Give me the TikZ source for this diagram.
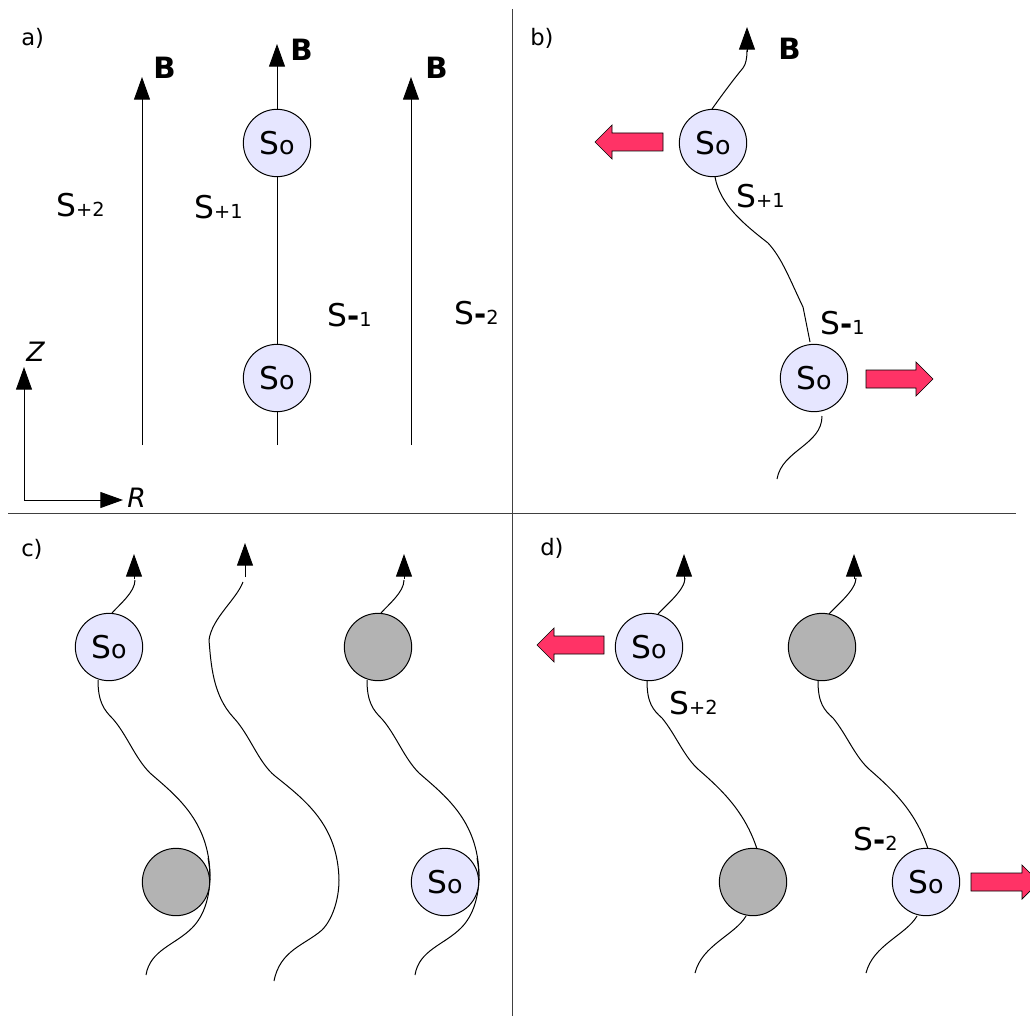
\documentclass[tikz,border=0pt]{standalone}
\usepackage{fontspec}
\setmainfont{DejaVu Sans}
\usetikzlibrary{arrows.meta}
\definecolor{sofill}{HTML}{E6E6FF}
\definecolor{grayfill}{HTML}{B3B3B3}
\definecolor{pushred}{HTML}{FF3366}
\newcommand{\Sbig}{\fontsize{23.5}{24}\selectfont S}
\newcommand{\Ssub}[1]{\fontsize{14.5}{16}\selectfont #1}
\newcommand{\Sminus}[1]{{\fontsize{22}{24}\selectfont\bfseries -}\Ssub{#1}}
\tikzset{
  fieldline/.style={line width=0.75pt,black},
  fieldtip/.style={line width=0.75pt,black,-{Triangle[length=17pt,width=12pt]}},
  wavy/.style={line width=0.75pt,black},
  atom/.style={circle,draw=black,line width=0.75pt,minimum size=50.5pt,inner sep=0pt},
  soatom/.style={atom,fill=sofill},
  darkatom/.style={atom,fill=grayfill},
  divider/.style={line width=0.75pt,black!75},
  push/.style={draw=black,line width=0.5pt,fill=pushred},
  panel/.style={anchor=base west,inner sep=0pt,font=\fontsize{17}{18}\selectfont},
  species/.style={anchor=base west,inner sep=0pt},
  fieldname/.style={anchor=base west,inner sep=0pt,font=\fontsize{22}{24}\selectfont\bfseries},
  axisname/.style={anchor=base west,inner sep=0pt,font=\fontsize{20}{22}\selectfont\itshape}
}
\newcommand{\So}{{\fontsize{23.5}{24}\selectfont S}{\fontsize{19}{20}\selectfont o}}
% block arrows: x of tail, x of head base, x of tip, y
\newcommand{\blockarrow}[4]{\draw[push] (#1,#4-9) -- (#2,#4-9) -- (#2,#4-17) -- (#3,#4) -- (#2,#4+17) -- (#2,#4+9) -- (#1,#4+9) -- cycle;}
% field line shared by the first and third lines of panel c
\newcommand{\fieldC}{%
  \draw[wavy] (112,613) .. controls (120,604) and (135,592) .. (135,580);
  \draw[wavy] (98,680) .. controls (98,702) and (104,710) .. (113,719)
    .. controls (127,735) and (135,758) .. (150,773)
    .. controls (175,795) and (209,820) .. (210,875)
    .. controls (210,895) and (205,915) .. (192,928)
    .. controls (175,945) and (150,950) .. (146,975);}
% field line shared by the two lines of panel d
\newcommand{\fieldD}{%
  \draw[wavy] (658,614) .. controls (666,605) and (685,590) .. (685,578);
  \draw[wavy] (647,681) .. controls (647,703) and (653,710) .. (662,718)
    .. controls (676,735) and (684,757) .. (699,770)
    .. controls (722,790) and (745,812) .. (757,849);
  \draw[wavy] (746,916) .. controls (735,935) and (702,945) .. (695,973);}
\begin{document}
\begin{tikzpicture}[x=0.75pt,y=-0.75pt]
\useasboundingbox (0,0) rectangle (1030,1016);
\clip (0,0) rectangle (1030,1016);
% dividers
\coordinate (vtop) at (512,9); \coordinate (vbot) at (512,1016);
\coordinate (hleft) at (8,513); \coordinate (hright) at (1016,513);
\draw[divider] (vtop) -- (vbot);
\draw[divider] (hleft) -- (hright);
% panel labels
\node[panel] (la) at (21,46) {a)};
\node[panel] (lb) at (530,46) {b)};
\node[panel] (lc) at (21,556) {c)};
\node[panel] (ld) at (540,555) {d)};
% panel a
\coordinate (a1b) at (142,445); \coordinate (a1t) at (142,77);
\coordinate (a2b) at (277,445); \coordinate (a2t) at (277,44);
\coordinate (a3b) at (411,445); \coordinate (a3t) at (411,77);
\draw[fieldtip] (a1b) -- (a1t);
\draw[fieldtip] (a2b) -- (a2t);
\draw[fieldtip] (a3b) -- (a3t);
\node[soatom] (aso1) at (277,143) {\So};
\node[soatom] (aso2) at (277,378) {\So};
\node[fieldname] (ab1) at (153,79) {B};
\node[fieldname] (ab2) at (290,61) {B};
\node[fieldname] (ab3) at (425,79) {B};
\node[species] (as1) at (56,216) {\Sbig\Ssub{+2}};
\node[species] (as2) at (194,219) {\Sbig\Ssub{+1}};
\node[species] (as3) at (327,326) {\Sbig\Sminus{1}};
\node[species] (as4) at (454,324) {\Sbig\Sminus{2}};
\coordinate (origin) at (24,500); \coordinate (zend) at (24,367); \coordinate (rend) at (123,500);
\draw[fieldtip] (origin) -- (zend);
\draw[fieldtip] (origin) -- (rend);
\node[axisname] (zlab) at (26,361) {Z};
\node[axisname] (rlab) at (127,507) {R};
% panel b
\draw[wavy] (712,109) .. controls (722,95) and (733,80) .. (743,68) .. controls (746,64) and (747,58) .. (747,50);
\coordinate (bab) at (747,52); \coordinate (bat) at (747,27);
\draw[fieldtip] (bab) -- (bat);
\draw[wavy] (715,177) .. controls (720,205) and (745,225) .. (768,243)
  .. controls (782,258) and (790,280) .. (803,307) -- (810,342);
\draw[wavy] (822,416) .. controls (822,445) and (782,450) .. (777,479);
\node[soatom] (bso1) at (713,143) {\So};
\node[soatom] (bso2) at (814,378) {\So};
\node[fieldname] (bb) at (778,60) {B};
\node[species] (bs1) at (736,208) {\Sbig\Ssub{+1}};
\node[species] (bs2) at (820,334) {\Sbig\Sminus{1}};
\blockarrow{663}{612}{595}{142}
\blockarrow{866}{916}{933}{379}
% panel c
\fieldC
\begin{scope}[shift={(269,0)}]\fieldC\end{scope}
\draw[wavy] (243,582) .. controls (236,600) and (212,618) .. (209,640)
  .. controls (211,665) and (213,695) .. (233,717)
  .. controls (250,735) and (258,762) .. (275,776)
  .. controls (305,800) and (338,825) .. (339,880)
  .. controls (339,900) and (332,920) .. (322,930)
  .. controls (305,945) and (280,950) .. (274,981);
\coordinate (cab1) at (134,579); \coordinate (cat1) at (134,554);
\coordinate (cab2) at (245,577); \coordinate (cat2) at (245,543);
\coordinate (cab3) at (404,579); \coordinate (cat3) at (404,554);
\draw[fieldtip] (cab1) -- (cat1);
\draw[fieldtip] (cab2) -- (cat2);
\draw[fieldtip] (cab3) -- (cat3);
\node[soatom] (cso1) at (109,647) {\So};
\node[darkatom] (cg1) at (176,882) {};
\node[darkatom] (cg2) at (378,647) {};
\node[soatom] (cso2) at (445,882) {\So};
% the stretch of each curve that runs along the right rim stays visible
\draw[wavy] (208,858) .. controls (209.5,866) and (210,872) .. (210,880);
\draw[wavy] (477,858) .. controls (478.5,866) and (479,872) .. (479,880);
% panel d
\fieldD
\begin{scope}[shift={(171,0)}]\fieldD\end{scope}
\coordinate (dab1) at (684,579); \coordinate (dat1) at (684,554);
\coordinate (dab2) at (854,579); \coordinate (dat2) at (854,554);
\draw[fieldtip] (dab1) -- (dat1);
\draw[fieldtip] (dab2) -- (dat2);
\node[soatom] (dso1) at (649,647) {\So};
\node[darkatom] (dg1) at (753,882) {};
\node[darkatom] (dg2) at (822,647) {};
\node[soatom] (dso2) at (926,882) {\So};
\node[species] (ds1) at (669,714) {\Sbig\Ssub{+2}};
\node[species] (ds2) at (853,850) {\Sbig\Sminus{2}};
\blockarrow{604}{554}{537}{645}
\blockarrow{971}{1022}{1039}{882}
\end{tikzpicture}
\end{document}
